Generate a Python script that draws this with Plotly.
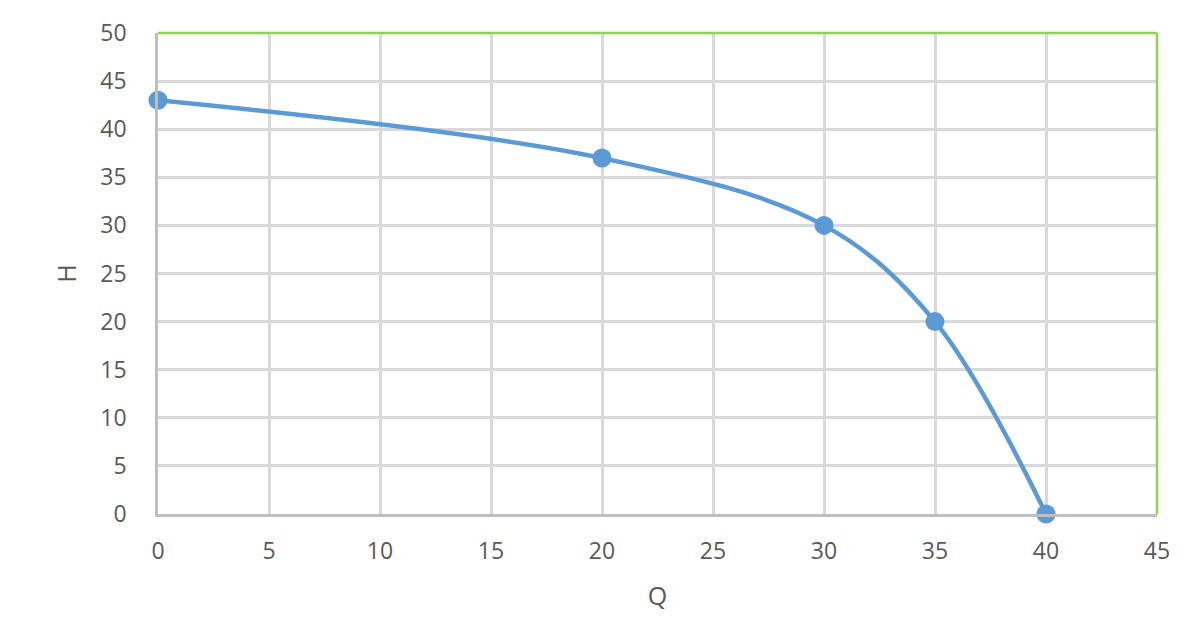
import plotly.graph_objects as go

Q = [0, 20, 30, 35, 40]
H = [43, 37, 30, 20, 0]

x_ticks = [0, 5, 10, 15, 20, 25, 30, 35, 40, 45]
y_ticks = [0, 5, 10, 15, 20, 25, 30, 35, 40, 45, 50]

fig = go.Figure()
fig.add_trace(go.Scatter(
    x=Q, y=H, mode="lines+markers",
    line=dict(color="#5b9bd5", width=4.5, shape="spline", smoothing=1),
    marker=dict(color="#5b9bd5", size=19),
    showlegend=False, cliponaxis=False,
))

font = dict(family="Open Sans", size=23, color="#595959")

fig.update_layout(
    width=1200, height=623,
    margin=dict(l=150, r=51, t=25, b=117),
    paper_bgcolor="white", plot_bgcolor="white",
    font=font,
    xaxis=dict(
        range=[0, 45], tickvals=x_ticks, showgrid=True, gridcolor="#d9d9d9", gridwidth=2.5,
        showline=True, linecolor="#bfbfbf", linewidth=2.5, zeroline=False,
        mirror=False, ticks="", ticklabelstandoff=15, automargin=False,
        title=dict(text="Q", font=dict(size=25, color="#595959"), standoff=23),
    ),
    yaxis=dict(
        range=[0, 50], tickvals=y_ticks, showgrid=True, gridcolor="#d9d9d9", gridwidth=2.5,
        showline=True, linecolor="#bfbfbf", linewidth=2.5, zeroline=False,
        ticks="", ticklabelstandoff=24, automargin=False,
        title=dict(text="H", font=dict(size=25, color="#595959"), standoff=17),
    ),
    shapes=[
        dict(type="line", xref="paper", yref="paper", x0=0, x1=1, y0=1, y1=1,
             line=dict(color="#92d050", width=2.5)),
        dict(type="line", xref="paper", yref="paper", x0=1, x1=1, y0=0, y1=1,
             line=dict(color="#92d050", width=2.5)),
    ],
)

fig.write_html("out.html")
